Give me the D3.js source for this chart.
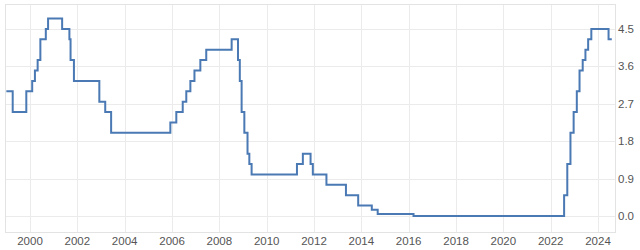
<!DOCTYPE html>
<html>
<head>
<meta charset="utf-8">
<script src="https://cdn.jsdelivr.net/npm/d3@7"></script>
<style>
  body { margin: 0; background: #fff; }
  svg { display: block; font-family: 'Liberation Sans', Arial, sans-serif; }
  .grid line { stroke: #ebebeb; stroke-width: 1; }
  .frame { fill: none; stroke: #e3e3e3; stroke-width: 1; }
  .tick-label { fill: #555; font-size: 11.5px; }
  .graph { fill: none; stroke: #4a79b4; stroke-width: 2; }
</style>
</head>
<body>
<svg id="chart" width="640" height="250"></svg>
<script>
// Rate change dates and new rate values
var dates = [
  '1999-01-01', '1999-04-09', '1999-11-05', '2000-02-04', '2000-03-17',
  '2000-04-28', '2000-06-09', '2000-09-01', '2000-10-06', '2001-05-11',
  '2001-08-31', '2001-09-18', '2001-11-09', '2002-12-06', '2003-03-07',
  '2003-06-06', '2005-12-06', '2006-03-08', '2006-06-15', '2006-08-09',
  '2006-10-11', '2006-12-13', '2007-03-14', '2007-06-13', '2008-07-09',
  '2008-10-15', '2008-11-12', '2008-12-10', '2009-01-21', '2009-03-11',
  '2009-04-08', '2009-05-13', '2011-04-13', '2011-07-13', '2011-11-09',
  '2011-12-14', '2012-07-11', '2013-05-08', '2013-11-13', '2014-06-11',
  '2014-09-10', '2016-03-16', '2022-07-27', '2022-09-14', '2022-11-02',
  '2022-12-21', '2023-02-08', '2023-03-22', '2023-05-10', '2023-06-21',
  '2023-08-02', '2023-09-20', '2024-06-12', '2024-08-01'
]
var rates = [
  3.0, 2.5, 3.0, 3.25, 3.5,
  3.75, 4.25, 4.5, 4.75, 4.5,
  4.25, 3.75, 3.25, 2.75, 2.5,
  2.0, 2.25, 2.5, 2.75, 3.0,
  3.25, 3.5, 3.75, 4.0, 4.25,
  3.75, 3.25, 2.5, 2.0, 1.5,
  1.25, 1.0, 1.25, 1.5, 1.25,
  1.0, 0.75, 0.5, 0.25, 0.15,
  0.05, 0.0, 0.5, 1.25, 2.0,
  2.5, 3.0, 3.5, 3.75, 4.0,
  4.25, 4.5, 4.25, 4.25
]

// Axis ticks
var x_ticks = [2000, 2002, 2004, 2006, 2008, 2010, 2012, 2014, 2016, 2018, 2020, 2022, 2024]
var y_ticks = [0.0, 0.9, 1.8, 2.7, 3.6, 4.5]

var svg = d3.select('#chart')

// Plot frame
var p_left = 5, p_right = 615, p_top = 4, p_bottom = 232

var parse = d3.timeParse('%Y-%m-%d')
var data = dates.map(function(d, i) {
  return { x: parse(d), y: rates[i] }
})

// 2000 -> 30px, 2024 -> 598px
var x_scale = d3.scaleTime()
  .domain([new Date(2000, 0, 1), new Date(2024, 0, 1)])
  .range([30, 598])

var y_scale = d3.scaleLinear()
  .domain([-0.385, 5.1])
  .range([p_bottom, p_top])

// Gridlines
var grid = svg.append('g').classed('grid', true)

grid.selectAll('.vx')
  .data(x_ticks)
  .enter().append('line')
  .attr('x1', d => Math.round(x_scale(new Date(d, 0, 1))) + 0.5)
  .attr('x2', d => Math.round(x_scale(new Date(d, 0, 1))) + 0.5)
  .attr('y1', p_top)
  .attr('y2', p_bottom)

grid.selectAll('.hy')
  .data(y_ticks)
  .enter().append('line')
  .attr('x1', p_left)
  .attr('x2', p_right)
  .attr('y1', d => Math.round(y_scale(d)) + 0.5)
  .attr('y2', d => Math.round(y_scale(d)) + 0.5)

svg.append('rect')
  .classed('frame', true)
  .attr('x', p_left + 0.5)
  .attr('y', p_top + 0.5)
  .attr('width', p_right - p_left)
  .attr('height', p_bottom - p_top)

// Step line
var valueline = d3.line()
  .x(d => x_scale(d.x))
  .y(d => y_scale(d.y))
  .curve(d3.curveStepAfter)

svg.append('path')
  .classed('graph', true)
  .attr('d', valueline(data))

// Tick labels
svg.selectAll('.xl')
  .data(x_ticks)
  .enter().append('text')
  .classed('tick-label', true)
  .attr('x', d => x_scale(new Date(d, 0, 1)))
  .attr('y', 244.5)
  .attr('text-anchor', 'middle')
  .text(d => d)

svg.selectAll('.yl')
  .data(y_ticks)
  .enter().append('text')
  .classed('tick-label', true)
  .attr('x', 618)
  .attr('y', d => y_scale(d) + 4)
  .text(d => d.toFixed(1))
</script>
</body>
</html>
